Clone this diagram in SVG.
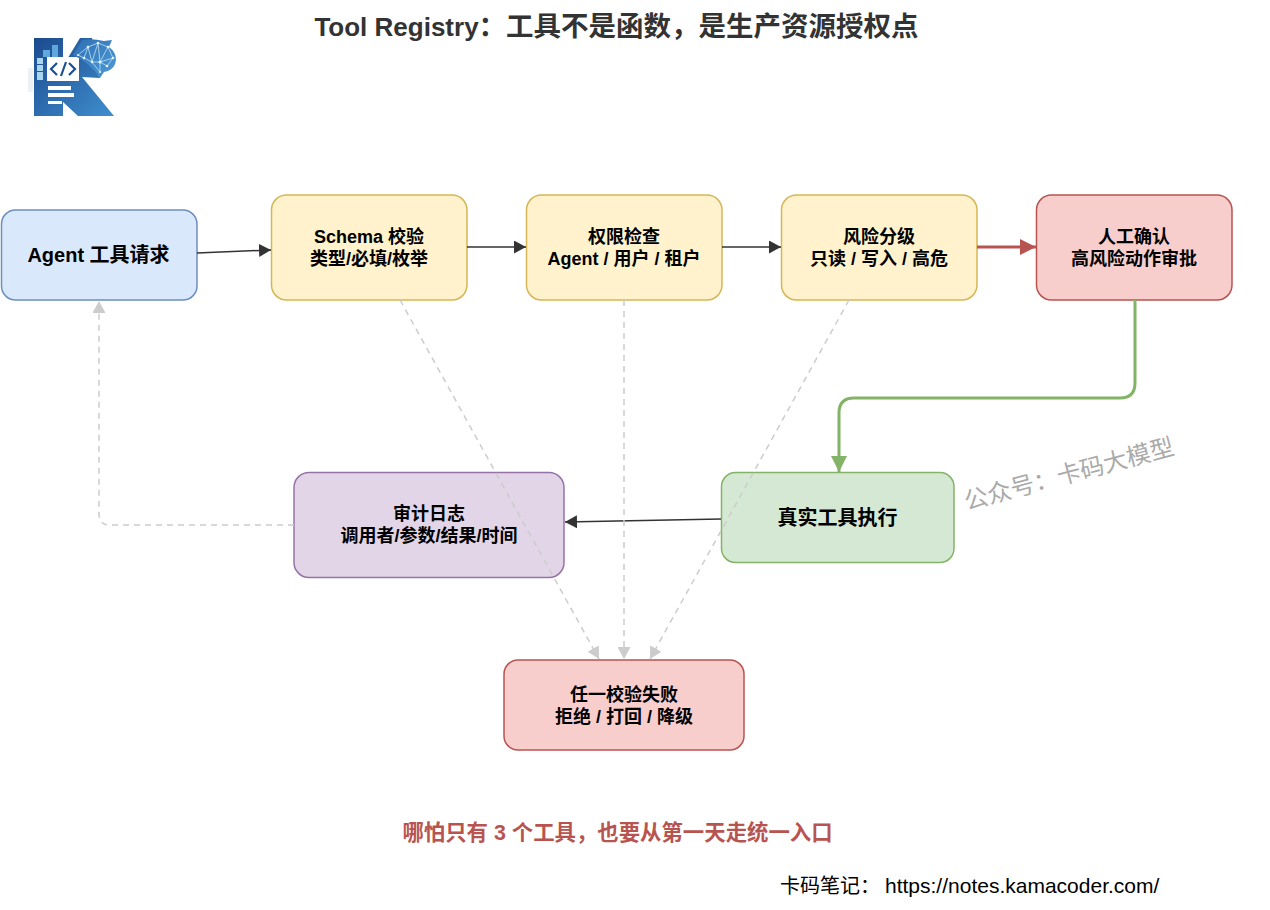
<svg xmlns="http://www.w3.org/2000/svg" width="1270" height="910" viewBox="0 0 1270 910">
<style>
text{font-family:"Liberation Sans","Noto Sans CJK SC",sans-serif;font-weight:700;text-anchor:middle}
.l{font-size:18px;fill:#000}
.xl{font-size:20px;fill:#000}
.box{stroke-width:1.5}
.b{fill:#dae8fc;stroke:#6c8ebf}.y{fill:#fff2cc;stroke:#d6b656}.r{fill:#f8cecc;stroke:#b85450}.g{fill:#d5e8d4;stroke:#82b366}.p{fill:#e1d5e7;stroke:#9673a6}
.e{fill:none;stroke:#333;stroke-width:1.5}
.d{fill:none;stroke:#ccc;stroke-width:1.5;stroke-dasharray:6 5}
.net{fill:none;stroke:#bfe3f5;stroke-width:.8}
.dot{fill:#e6f5fc}
</style>
<defs>
<marker id="ak" markerUnits="userSpaceOnUse" markerWidth="13" markerHeight="13" refX="12" refY="6.5" orient="auto"><path d="M0 0L12 6.5L0 13Z" fill="#333"/></marker>
<marker id="ag" markerUnits="userSpaceOnUse" markerWidth="13" markerHeight="13" refX="12" refY="6.5" orient="auto"><path d="M0 0L12 6.5L0 13Z" fill="#ccc"/></marker>
<marker id="ar" markerUnits="userSpaceOnUse" markerWidth="17" markerHeight="17" refX="16" refY="8" orient="auto"><path d="M0 0L16 8L0 16Z" fill="#b85450"/></marker>
<marker id="agr" markerUnits="userSpaceOnUse" markerWidth="17" markerHeight="17" refX="16" refY="8" orient="auto"><path d="M0 0L16 8L0 16Z" fill="#82b366"/></marker>
<linearGradient id="kg" x1="0" y1="0" x2="1" y2="1"><stop offset="0" stop-color="#1c4a8f"/><stop offset="1" stop-color="#3f8fce"/></linearGradient>
<linearGradient id="bg" x1="0" y1="0" x2="1" y2="1"><stop offset="0" stop-color="#2f6fb5"/><stop offset="1" stop-color="#4e9bd6"/></linearGradient>
</defs>
<text x="616.500" y="36" style="font-size:26px;fill:#333">Tool Registry<tspan style="font-size:27.500px">&#xFF1A;工具不是函数&#xFF0C;是生产资源授权点</tspan></text>
<g id="logo">
<path d="M34 38H63V66L80 38H92L100 78L82 77L114 116H78L63 102V116H34Z" fill="url(#kg)"/>
<path d="M28 68h5v24h-5z" fill="#eef1f4"/>
<path d="M43 50h7v7h-7zM52 45h6v12h-6z" fill="#5fa8dc"/>
<path d="M37 58h6v6h-6zM37 65h6v6h-6zM37 72h6v8h-6z" fill="#a9d6ef"/>
<rect x="47" y="57" width="32" height="24" fill="#fff"/>
<path d="M57 63l-6 6 6 6M69 63l6 6-6 6M66 62l-5 14" fill="none" stroke="#1d4f96" stroke-width="2.2"/>
<path d="M48 86h23v4H48zM48 93h26v4H48zM48 101h14v3H48z" fill="#fff"/>
<path d="M73 55L82 40Q92 38 104 41L112 40L109 47Q116 52 116 60Q115 68 108 71L104 72L100 78L95 71L84 61Z" fill="url(#bg)"/>
<path class="net" d="M78 55L88 47L98 43L108 47L113 58L107 66L100 62L92 62L84 58L78 55M88 47L92 62L98 43L100 62L108 47M92 62L100 72L100 62L113 58M84 58L88 47"/>
<g class="dot"><circle cx="88" cy="47" r="1.3"/><circle cx="98" cy="43" r="1.3"/><circle cx="108" cy="47" r="1.3"/><circle cx="113" cy="58" r="1.3"/><circle cx="107" cy="66" r="1.3"/><circle cx="100" cy="62" r="1.5"/><circle cx="92" cy="62" r="1.3"/><circle cx="84" cy="58" r="1.3"/><circle cx="78" cy="55" r="1.1"/><circle cx="100" cy="72" r="1.1"/></g>
</g>
<g id="n1"><rect class="box b" x="1.500" y="210" width="195.500" height="90" rx="14"/><text class="xl" x="98.500" y="262">Agent 工具请求</text></g>
<g id="n2"><rect class="box y" x="271.500" y="195" width="195.500" height="105" rx="15"/><text class="l" x="369" y="243">Schema 校验</text><text class="l" x="369" y="265">类型/必填/枚举</text></g>
<g id="n3"><rect class="box y" x="526.500" y="195" width="195.500" height="105" rx="15"/><text class="l" x="624" y="243">权限检查</text><text class="l" x="624" y="265">Agent / 用户 / 租户</text></g>
<g id="n4"><rect class="box y" x="781.500" y="195" width="195.500" height="105" rx="15"/><text class="l" x="879" y="243">风险分级</text><text class="l" x="879" y="265">只读 / 写入 / 高危</text></g>
<g id="n5"><rect class="box r" x="1036.500" y="195" width="195.500" height="105" rx="15"/><text class="l" x="1134" y="243">人工确认</text><text class="l" x="1134" y="265">高风险动作审批</text></g>
<g id="n6"><rect class="box g" x="721.500" y="472.500" width="232.500" height="90" rx="14"/><text class="xl" x="837.500" y="525">真实工具执行</text></g>
<g id="n7"><rect class="box p" x="294" y="472.500" width="270" height="105" rx="15"/><text class="l" x="429" y="520">审计日志</text><text class="l" x="429" y="542">调用者/参数/结果/时间</text></g>
<g id="n8"><rect class="box r" x="504" y="660" width="240" height="90" rx="14"/><text class="l" x="624" y="701">任一校验失败</text><text class="l" x="624" y="723">拒绝 / 打回 / 降级</text></g>
<g id="connectors">
<path class="e" marker-end="url(#ak)" d="M197 253L271 250"/>
<path class="e" marker-end="url(#ak)" d="M467 247H526"/>
<path class="e" marker-end="url(#ak)" d="M722 247H781"/>
<path fill="none" stroke="#b85450" stroke-width="3" marker-end="url(#ar)" d="M977 247H1036"/>
<path fill="none" stroke="#82b366" stroke-width="3" marker-end="url(#agr)" d="M1135 300V383Q1135 398 1120 398H854Q839 398 839 413V472"/>
<path class="e" marker-end="url(#ak)" d="M721 519L565 522"/>
<path class="d" marker-end="url(#ag)" d="M294 525H110Q99 525 99 514V301"/>
<path class="d" marker-end="url(#ag)" d="M400 300L599 659"/>
<path class="d" marker-end="url(#ag)" d="M624 300V659"/>
<path class="d" marker-end="url(#ag)" d="M849 300L650 659"/>
</g>
<text x="617.500" y="840" style="font-size:21.400px;fill:#b85450">哪怕只有 3 个工具&#xFF0C;也要从第一天走统一入口</text>
<text x="780" y="893" style="font-size:20px;font-weight:400;fill:#000;text-anchor:start">卡码笔记&#xFF1A;<tspan x="885" style="font-size:21px">https://notes.kamacoder.com/</tspan></text>
<text x="1071" y="482" transform="rotate(-15 1071 482)" style="font-size:24px;font-weight:400;fill:#aaa">公众号&#xFF1A;卡码大模型</text>
</svg>
